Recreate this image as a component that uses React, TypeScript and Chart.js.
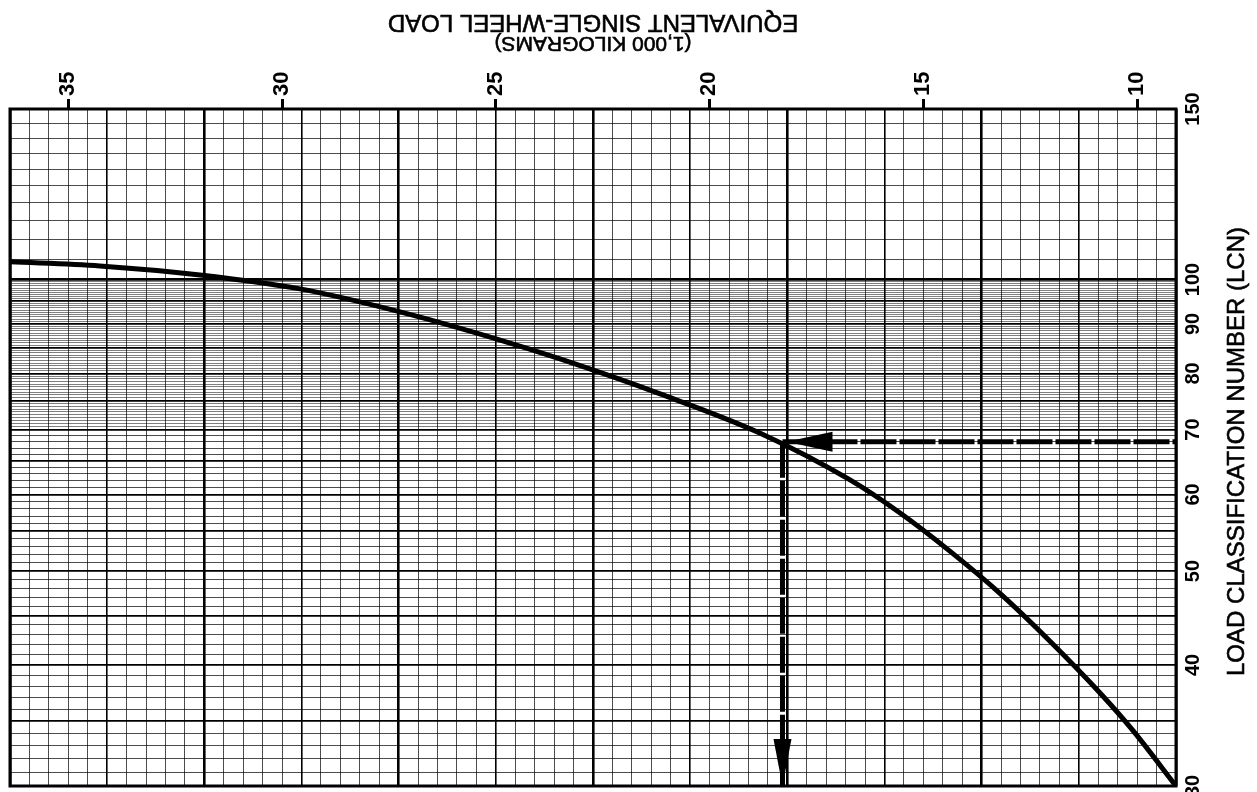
import React, { useEffect, useRef } from 'react';
import { Chart, registerables } from 'chart.js';

Chart.register(...registerables);

const FONT = '"Liberation Sans", Arial, Helvetica, sans-serif';

// Axis ranges
const LOAD_MIN = 9.1;
const LOAD_MAX = 36.36;
const LCN_MIN = 30;
const LCN_MAX = 150;

// Tick labels
const LOAD_TICKS = [35, 30, 25, 20, 15, 10];
const LCN_LABELS = [30, 40, 50, 60, 70, 80, 90, 100, 150];

// Curve: equivalent single-wheel load (1,000 kg) vs LCN
const CURVE_LOAD = [36.36, 34.26, 31.92, 29.58, 27.24, 24.9, 23.5, 21.16, 18.82, 16.72, 15.55, 14.38, 13.21, 12.04, 10.87, 10.1, 9.1];
const CURVE_LCN = [104.3, 103.3, 101.1, 97.8, 92.6, 86.6, 82.8, 76.2, 69.4, 62.1, 57.4, 52.4, 47.4, 42.3, 37.4, 34.2, 30.0];

// Worked example (arrows)
const EXAMPLE_LCN = 68;
const EXAMPLE_LOAD = 18.3;

const Y_TITLE = 'LOAD CLASSIFICATION NUMBER (LCN)';
const X_TITLE_1 = 'EQUIVALENT SINGLE-WHEEL LOAD';
const X_TITLE_2 = '(1,000 KILOGRAMS)';

// Graph-paper rulings
const LCN_GRID: number[] = [];
for (let v = 30; v < 70; v += 1) LCN_GRID.push(v);
for (let v = 70; v < 100; v += 0.5) LCN_GRID.push(v);
for (let v = 100; v <= 150; v += 5) LCN_GRID.push(v);
const PAPER_X: number[] = [];
for (let v = 0; v <= 60; v += 1) PAPER_X.push(v);

function drawTitle(ctx: any, text: string, x: number, y: number, angle: number, size: number) {
  ctx.save();
  ctx.translate(x, y);
  ctx.rotate(angle);
  ctx.font = `${size}px ${FONT}`;
  ctx.textAlign = 'center';
  ctx.textBaseline = 'middle';
  ctx.fillStyle = '#000';
  ctx.strokeStyle = '#000';
  ctx.lineWidth = 0.6;
  ctx.fillText(text, 0, 0);
  ctx.strokeText(text, 0, 0);
  ctx.restore();
}

const decor = {
  id: 'decor',
  afterDraw(chart: any) {
    const { ctx, chartArea: a, scales } = chart;
    const xs = scales.x;
    const ys = scales.y;
    ctx.save();
    // frame
    ctx.strokeStyle = '#000';
    ctx.lineWidth = 3;
    ctx.strokeRect(a.left, a.top, a.right - a.left, a.bottom - a.top);

    // arrowheads
    const ax = xs.getPixelForValue(EXAMPLE_LOAD);
    const ay = ys.getPixelForValue(EXAMPLE_LCN);
    ctx.fillStyle = '#000';
    ctx.beginPath();
    ctx.moveTo(ax + 4, ay);
    ctx.lineTo(ax + 50, ay - 10);
    ctx.lineTo(ax + 50, ay + 10);
    ctx.closePath();
    ctx.fill();
    const by = ys.getPixelForValue(LCN_MIN);
    ctx.beginPath();
    ctx.moveTo(ax, by);
    ctx.lineTo(ax - 9, by - 47);
    ctx.lineTo(ax + 9, by - 47);
    ctx.closePath();
    ctx.fill();
    ctx.restore();

    // titles
    drawTitle(ctx, Y_TITLE, a.right + 61, (a.top + a.bottom) / 2 + 4, -Math.PI / 2, 24);
    const cx = (a.left + a.right) / 2;
    drawTitle(ctx, X_TITLE_1, cx, 22, Math.PI, 24);
    drawTitle(ctx, X_TITLE_2, cx, 43, Math.PI, 21);
  },
};

function lcnGridWidth(v: number) {
  if (Math.abs(v - 100) < 1e-6) return 2.8;
  if (v <= 100 && Math.abs(v % 5) < 1e-6) return 1.8;
  return 1;
}
function lcnGridColor(v: number) {
  if (v <= 100 && Math.abs(v % 5) < 1e-6) return '#000';
  if (v > 100) return 'rgba(0,0,0,0.7)';
  if (v >= 70) return 'rgba(0,0,0,0.5)';
  return 'rgba(0,0,0,0.7)';
}

export default function App() {
  const ref = useRef<HTMLCanvasElement | null>(null);
  useEffect(() => {
    if (!ref.current) return;
    const chart = new Chart(ref.current, {
      type: 'line',
      data: {
        datasets: [
          {
            label: 'curve',
            data: CURVE_LOAD.map((x, i) => ({ x, y: CURVE_LCN[i] })),
            borderColor: '#000',
            borderWidth: 5,
            pointRadius: 0,
            cubicInterpolationMode: 'monotone',
            fill: false,
            xAxisID: 'x',
            yAxisID: 'y',
          },
          {
            label: 'lcn-arrow',
            data: [
              { x: EXAMPLE_LOAD, y: EXAMPLE_LCN },
              { x: LOAD_MIN, y: EXAMPLE_LCN },
            ],
            borderColor: '#000',
            borderWidth: 5,
            borderDash: [36, 3],
            pointRadius: 0,
            fill: false,
            xAxisID: 'x',
            yAxisID: 'y',
          },
          {
            label: 'load-arrow',
            data: [
              { x: EXAMPLE_LOAD, y: EXAMPLE_LCN },
              { x: EXAMPLE_LOAD, y: LCN_MIN },
            ],
            borderColor: '#000',
            borderWidth: 5,
            borderDash: [36, 3],
            pointRadius: 0,
            fill: false,
            xAxisID: 'x',
            yAxisID: 'y',
          },
        ],
      },
      options: {
        responsive: false,
        animation: false,
        layout: { padding: { left: 10, right: 0, top: 0, bottom: 6 } },
        plugins: { legend: { display: false }, tooltip: { enabled: false } },
        scales: {
          x: {
            type: 'linear',
            position: 'top',
            reverse: true,
            min: LOAD_MIN,
            max: LOAD_MAX,
            afterBuildTicks: (s: any) => {
              s.ticks = LOAD_TICKS.map((v) => ({ value: v }));
            },
            afterFit: (s: any) => {
              s.height = 109;
              s.paddingLeft = 0;
              s.paddingRight = 0;
            },
            ticks: {
              minRotation: 90,
              maxRotation: 90,
              autoSkip: false,
              padding: 3,
              labelOffset: 26,
              color: '#000',
              font: { family: FONT, size: 22, weight: 'bold' },
              callback: (v: any) => String(v),
            },
            grid: { drawOnChartArea: false, drawTicks: true, tickLength: 10, tickWidth: 3, tickColor: '#000' },
            border: { display: false },
          },
          y: {
            type: 'logarithmic',
            position: 'right',
            min: LCN_MIN,
            max: LCN_MAX,
            afterBuildTicks: (s: any) => {
              s.ticks = LCN_GRID.map((v) => ({ value: v }));
            },
            afterFit: (s: any) => {
              s.width = 81;
              s.paddingTop = 0;
              s.paddingBottom = 0;
            },
            ticks: {
              autoSkip: false,
              minRotation: 90,
              maxRotation: 90,
              crossAlign: 'center',
              padding: 1,
              color: '#000',
              font: { family: FONT, size: 20, weight: 'bold' },
              callback: (v: any) => (LCN_LABELS.includes(Number(v)) ? String(v) : ''),
            },
            grid: {
              drawTicks: false,
              color: (c: any) => (c.tick ? lcnGridColor(c.tick.value) : '#000'),
              lineWidth: (c: any) => (c.tick ? lcnGridWidth(c.tick.value) : 1),
            },
            border: { display: false },
          },
          px: {
            type: 'linear',
            position: 'bottom',
            min: 0,
            max: 60,
            afterBuildTicks: (s: any) => {
              s.ticks = PAPER_X.map((v) => ({ value: v }));
            },
            afterFit: (s: any) => {
              s.height = 0;
              s.paddingLeft = 0;
              s.paddingRight = 0;
            },
            ticks: { display: false },
            grid: {
              drawTicks: false,
              color: (c: any) => {
                const v = c.tick ? c.tick.value : 0;
                return v % 5 === 0 ? '#000' : 'rgba(0,0,0,0.7)';
              },
              lineWidth: (c: any) => {
                const v = c.tick ? c.tick.value : 0;
                return v % 10 === 0 ? 2.6 : v % 5 === 0 ? 1.6 : 1;
              },
            },
            border: { display: false },
          },
        },
      } as any,
      plugins: [decor],
    });
    return () => chart.destroy();
  }, []);

  return (
    <div style={{ position: 'fixed', left: 0, top: 0, width: 1257, height: 792, background: '#fff' }}>
      <canvas ref={ref} width={1257} height={792} style={{ display: 'block', width: 1257, height: 792 }} />
    </div>
  );
}
